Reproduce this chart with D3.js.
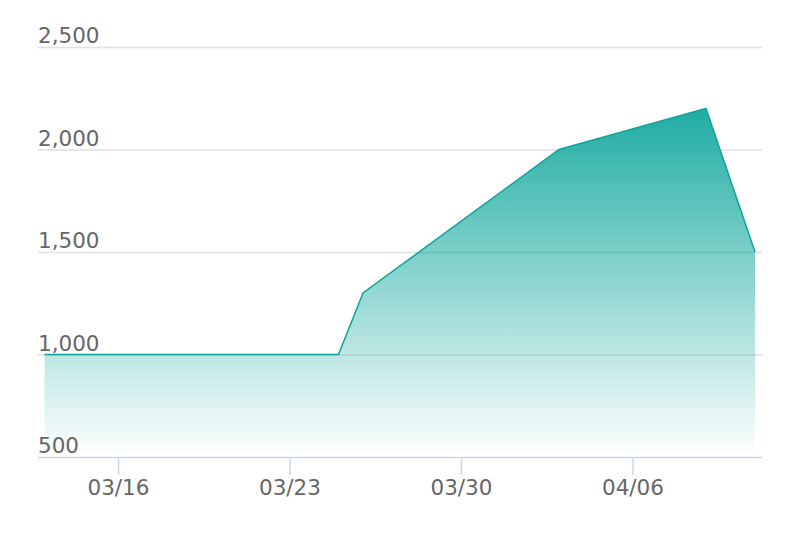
<!DOCTYPE html>
<html><head><meta charset="utf-8">
<script src="https://cdn.jsdelivr.net/npm/d3@7"></script>
<style>body{margin:0;background:#fff}svg{display:block}</style>
</head><body>
<script>
const dates = ["2023-03-13","2023-03-25","2023-03-26","2023-04-03","2023-04-09","2023-04-11"];
const values = [1000, 1000, 1300, 2000, 2200, 1500];
const yTicks = [500, 1000, 1500, 2000, 2500];
const xTickDates = ["2023-03-16","2023-03-23","2023-03-30","2023-04-06"];

const W = 800, H = 540;
const parse = d3.utcParse("%Y-%m-%d");
const data = dates.map((d,i)=>({date:parse(d), value:values[i]}));

const svg = d3.select("body").append("svg").attr("width",W).attr("height",H);
const x = d3.scaleUtc().domain([parse(dates[0]), parse(dates[dates.length-1])]).range([44.5,755]);
const y = d3.scaleLinear().domain([500,2500]).range([457,47]);
const FONT = "DejaVu Sans, sans-serif", FS = 21.5;

const defs = svg.append("defs");
const grad = defs.append("linearGradient").attr("id","g").attr("x1",0).attr("y1",0).attr("x2",0).attr("y2",1);
grad.append("stop").attr("offset","0%").attr("stop-color","#13a89e").attr("stop-opacity",1);
grad.append("stop").attr("offset","100%").attr("stop-color","#13a89e").attr("stop-opacity",0);

// gridlines (behind the area)
svg.append("g").selectAll("line").data(yTicks.filter(t=>t>500)).join("line")
  .attr("x1",38).attr("x2",762).attr("y1",d=>y(d)+0.5).attr("y2",d=>y(d)+0.5)
  .attr("stroke","#e0e0e0").attr("stroke-width",1.5);

const area = d3.area().x(d=>x(d.date)).y0(y(500)).y1(d=>y(d.value));
svg.append("path").datum(data).attr("d",area).attr("fill","url(#g)").attr("fill-opacity",0.95);

const line = d3.line().x(d=>x(d.date)).y(d=>y(d.value));
svg.append("path").datum(data).attr("d",line).attr("fill","none").attr("stroke","#10a39a").attr("stroke-width",1.5);

// y labels
svg.append("g").selectAll("text").data(yTicks).join("text")
  .attr("x",38).attr("y",d=>y(d)-4).text(d=>d3.format(",")(d))
  .attr("fill","#666").attr("font-family",FONT).attr("font-size",FS);

// x axis
const xAxis = d3.axisBottom(x).tickValues(xTickDates.map(parse)).tickFormat(d3.utcFormat("%m/%d")).tickSize(18).tickPadding(5);
const gx = svg.append("g").attr("transform",`translate(0,${y(500)})`).call(xAxis);
gx.select(".domain").remove();
gx.selectAll(".tick line").attr("stroke","#ccd6eb").attr("stroke-width",1.5);
gx.selectAll(".tick text").attr("fill","#666").attr("font-family",FONT).attr("font-size",FS);
svg.append("line").attr("x1",38).attr("x2",762).attr("y1",y(500)+0.5).attr("y2",y(500)+0.5).attr("stroke","#ccd6eb").attr("stroke-width",1.5);
</script>
</body></html>
